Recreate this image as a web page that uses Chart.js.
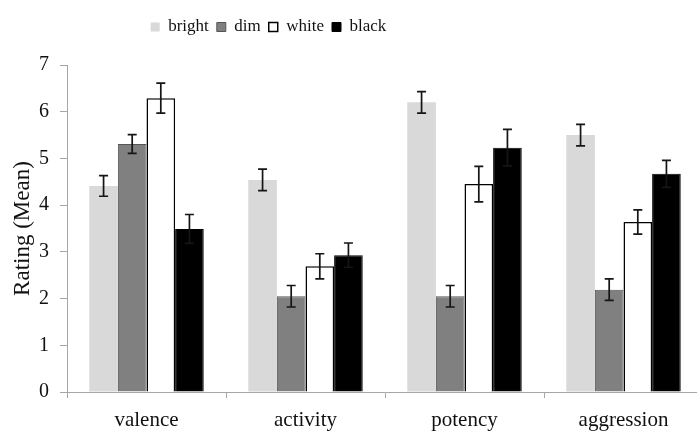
<!DOCTYPE html>
<html>
<head>
<meta charset="utf-8">
<script src="https://cdn.jsdelivr.net/npm/chart.js@4.4.1/dist/chart.umd.min.js"></script>
<style>
  html, body { margin: 0; padding: 0; overflow: hidden; background: #fff; }
  #wrap { width: 704px; height: 431px; }
</style>
</head>
<body>
<div id="wrap"><canvas id="grafico"></canvas></div>
<script>
const categorias = ['valence', 'activity', 'potency', 'aggression'];

const bright = [4.41, 4.54, 6.20, 5.50];
const dim    = [5.31, 2.05, 2.05, 2.19];
const white  = [6.29, 2.69, 4.45, 3.64];
const black  = [3.49, 2.93, 5.23, 4.67];

// erro padrao (meia altura da barra de erro)
const brightErr = [0.22, 0.23, 0.23, 0.23];
const dimErr    = [0.20, 0.23, 0.23, 0.23];
const whiteErr  = [0.32, 0.27, 0.38, 0.26];
const blackErr  = [0.31, 0.26, 0.39, 0.29];

const yTicks = [0, 1, 2, 3, 4, 5, 6, 7];

const erros = [brightErr, dimErr, whiteErr, blackErr];
const fonte = '"Liberation Serif", "Times New Roman", serif';
const cinzaEixo = '#a6a6a6';

// desenha as barras de erro em cima das barras
const barrasErro = {
  id: 'barrasErro',
  afterDatasetsDraw(chart) {
    const ctx = chart.ctx;
    const y = chart.scales.y;
    ctx.save();
    ctx.strokeStyle = '#151515';
    ctx.lineWidth = 1.7;
    chart.data.datasets.forEach(function(ds, i) {
      const meta = chart.getDatasetMeta(i);
      meta.data.forEach(function(bar, j) {
        const v = ds.data[j];
        const e = erros[i][j];
        const topo = y.getPixelForValue(v + e);
        const base = y.getPixelForValue(v - e);
        ctx.beginPath();
        ctx.moveTo(bar.x, topo); ctx.lineTo(bar.x, base);
        ctx.moveTo(bar.x - 4.5, topo); ctx.lineTo(bar.x + 4.5, topo);
        ctx.moveTo(bar.x - 4.5, base); ctx.lineTo(bar.x + 4.5, base);
        ctx.stroke();
      });
    });
    ctx.restore();
  }
};

// legenda fica mais a esquerda no original
const moverLegenda = {
  id: 'moverLegenda',
  afterLayout(chart) {
    chart.legend.left -= 83;
    chart.legend.right -= 83;
  }
};

const ctx = document.getElementById('grafico').getContext('2d');
const grafico = new Chart(ctx, {
  type: 'bar',
  data: {
    labels: categorias,
    datasets: [
      { label: 'bright', data: bright, backgroundColor: '#d9d9d9', borderWidth: 0 },
      { label: 'dim', data: dim, backgroundColor: '#808080', borderColor: '#555', borderWidth: 1 },
      { label: 'white', data: white, backgroundColor: '#ffffff', borderColor: '#000', borderWidth: 1.5 },
      { label: 'black', data: black, backgroundColor: '#000000', borderColor: '#000', borderWidth: 1 }
    ]
  },
  options: {
    responsive: true,
    maintainAspectRatio: false,
    animation: false,
    layout: { padding: { left: 0, right: 1, top: 10.5, bottom: 0 } },
    datasets: {
      bar: { categoryPercentage: 0.72, barPercentage: 1.0 }
    },
    scales: {
      x: {
        afterFit: function(scale) { scale.height = 39; },
        grid: { offset: true, drawOnChartArea: false, drawTicks: true, tickLength: 6, color: cinzaEixo },
        border: { color: cinzaEixo, width: 1 },
        ticks: { color: '#111', font: { family: fonte, size: 21 }, padding: 10 }
      },
      y: {
        min: 0,
        max: 7,
        afterFit: function(scale) { scale.width = 67; },
        afterBuildTicks: function(scale) { scale.ticks = yTicks.map(v => ({ value: v })); },
        grid: { drawOnChartArea: false, drawTicks: true, tickLength: 7, color: cinzaEixo },
        border: { color: cinzaEixo, width: 1 },
        ticks: { color: '#111', font: { family: fonte, size: 20 }, padding: 11 },
        title: {
          display: true,
          text: 'Rating (Mean)',
          color: '#111',
          font: { family: fonte, size: 23 },
          padding: { top: 9, bottom: 0 }
        }
      }
    },
    plugins: {
      legend: {
        position: 'top',
        labels: {
          color: '#111',
          font: { family: fonte, size: 17 },
          boxWidth: 9,
          boxHeight: 9,
          padding: 8
        }
      },
      // titulo vazio so para dar espaco entre a legenda e o grafico
      title: {
        display: true,
        text: '',
        weight: 500,
        padding: 0,
        font: { size: 19.5, lineHeight: 1 }
      },
      tooltip: { enabled: false }
    }
  },
  plugins: [barrasErro, moverLegenda]
});
</script>
</body>
</html>
